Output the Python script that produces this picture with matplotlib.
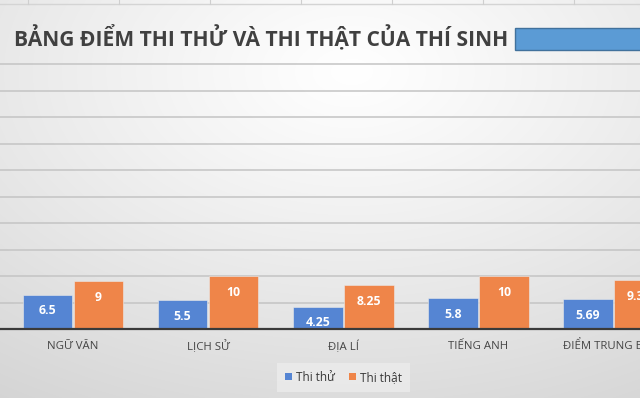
import numpy as np
import matplotlib
matplotlib.use("Agg")
import matplotlib.pyplot as plt
from matplotlib.patches import Patch, Rectangle
from matplotlib.lines import Line2D

plt.rcParams['font.family'] = ['Open Sans', 'DejaVu Sans']

categories = ['NGỮ VĂN', 'LỊCH SỬ', 'ĐỊA LÍ', 'TIẾNG ANH', 'ĐIỂM TRUNG BÌNH']
thi_thu = [6.5, 5.5, 4.25, 5.8, 5.69]
thi_that = [9, 10, 8.25, 10, 9.31]
labels_thu = ['6.5', '5.5', '4.25', '5.8', '5.69']
labels_that = ['9', '10', '8.25', '10', '9.31']
series_names = ['Thi thử', 'Thi thật']
title = 'BẢNG ĐIỂM THI THỬ VÀ THI THẬT CỦA THÍ SINH'

blue = '#5585d3'
orange = '#ef8549'
W, H = 640, 398

fig = plt.figure(figsize=(W / 100, H / 100), dpi=100)

# soft grey gradient behind the chart
bg = fig.add_axes([0, 0, 1, 1], zorder=-10)
u, v = np.meshgrid(np.linspace(0, 1, W), np.linspace(0, 1, H))
d = np.sqrt(((u - 0.55) / 0.9) ** 2 + ((v - 0.18) / 0.9) ** 2)
val = np.clip(1 - 0.15 * d ** 1.1, 0, 1)
bg.imshow(np.dstack([val, val, val]), aspect='auto', extent=[0, 1, 0, 1])
bg.axis('off')

# spreadsheet cell edge at top
fig.add_artist(Line2D([0, 1], [1 - 3.5 / H] * 2, color='#d4d4d4', lw=1))
for xp in range(28, W, 91):
    fig.add_artist(Line2D([xp / W] * 2, [1 - 3.5 / H, 1], color='#cfcfcf', lw=0.8))

# plot area (right side cut by the screenshot)
x = np.arange(len(categories))
ax = fig.add_axes([0, 69 / H, 1, 270 / H])
ax.set_facecolor('none')
ax.set_xlim(-73 / 135.1, (W - 73) / 135.1)
ax.set_ylim(0, 51)
ax.set_yticks(np.arange(5, 55, 5))
ax.grid(axis='y', color='#c4c4c4', lw=1.1)
ax.set_axisbelow(True)
ax.tick_params(left=False, labelleft=False, bottom=False, labelbottom=False)
for s in ['top', 'right', 'left']:
    ax.spines[s].set_visible(False)
ax.spines['bottom'].set_color('#3a3a3a')
ax.spines['bottom'].set_linewidth(1.6)

w = 0.368
b1 = ax.bar(x - 0.189, thi_thu, w, color=blue, edgecolor='#eaeaea', lw=0.4)
b2 = ax.bar(x + 0.189, thi_that, w, color=orange, edgecolor='#eaeaea', lw=0.4)

for xs, vals, labs in [(x - 0.189, thi_thu, labels_thu), (x + 0.189, thi_that, labels_that)]:
    for xi, vi, li in zip(xs, vals, labs):
        ax.annotate(li, (xi, vi), xytext=(0, -11.8), textcoords='offset points',
                    ha='center', va='center', color='white', fontsize=8.8,
                    fontweight='bold')

for xi, c in zip(x, categories):
    ax.annotate(c, (xi, 0), xytext=(0, -12.6), textcoords='offset points',
                ha='center', va='center', color='#454545', fontsize=8.2,
                annotation_clip=False)

# title
t = fig.text(14 / W, 1 - 39 / H, title, ha='left', va='center', fontsize=17,
             fontweight='bold', color='#404040')
fig.canvas.draw()
tw = t.get_window_extent().width
t.set_fontsize(17 * 494 / tw)

fig.add_artist(Rectangle((515 / W, 1 - 50 / H), 130 / W, 22 / H,
                         transform=fig.transFigure, facecolor='#5b9bd5',
                         edgecolor='#41719c', lw=1))

handles = [Patch(facecolor=blue), Patch(facecolor=orange)]
leg = fig.legend(handles, series_names, loc='center',
                 bbox_to_anchor=(343.5 / W, 1 - 377.5 / H), ncol=2,
                 fontsize=8.5, frameon=True, fancybox=False,
                 handlelength=0.55, handleheight=0.55, handletextpad=0.35,
                 columnspacing=1.2, borderpad=0.7)
leg.get_frame().set_facecolor('#ececec')
leg.get_frame().set_edgecolor('none')
for txt in leg.get_texts():
    txt.set_color('#383838')

fig.savefig('out.png', dpi=100)
